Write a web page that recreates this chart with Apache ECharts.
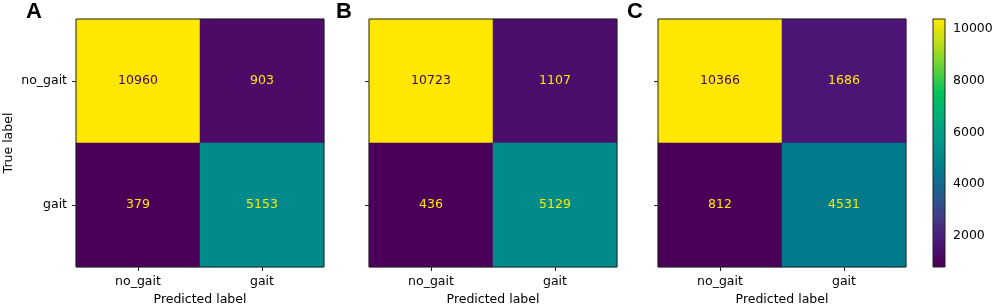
<!DOCTYPE html>
<html>
<head>
<meta charset="utf-8">
<script src="https://cdn.jsdelivr.net/npm/echarts@6/dist/echarts.min.js"></script>
<style>
  html, body { margin: 0; padding: 0; background: #fff; }
  #main { width: 996px; height: 306px; }
</style>
</head>
<body>
<div id="main"></div>
<script>
// confusion matrices, rows = true label, cols = predicted label
var labels = ["no_gait", "gait"];
var panels = ["A", "B", "C"];
var matA = [[10960, 903], [379, 5153]];
var matB = [[10723, 1107], [436, 5129]];
var matC = [[10366, 1686], [812, 4531]];
var cbTicks = [2000, 4000, 6000, 8000, 10000];

// viridis as it looks in the picture (rather saturated)
var cmap = ["#4a0058", "#4c1677", "#453a86", "#1e5e8f", "#007d8c", "#00968a",
  "#00ac7c", "#00c35c", "#5fd23a", "#bcdd18", "#ffe800"];

var myChart = echarts.init(document.getElementById("main"));
var font = "DejaVu Sans";
var lefts = [76, 369, 658];
var mats = [matA, matB, matC];

function range(m) {
  var all = m[0].concat(m[1]);
  return [Math.min.apply(null, all), Math.max.apply(null, all)];
}

var grids = [], xAxes = [], yAxes = [], series = [], vms = [], titles = [];
mats.forEach(function (m, k) {
  var r = range(m);
  var thresh = (r[0] + r[1]) / 2;
  grids.push({ left: lefts[k], top: 19, width: 248, height: 248, show: true,
    borderColor: "#222", borderWidth: 1, z: 3, containLabel: false, outerBoundsMode: "none" });
  xAxes.push({
    type: "category", gridIndex: k, data: labels,
    axisLine: { show: false },
    axisTick: { show: true, alignWithLabel: true, length: 4, lineStyle: { color: "#222" } },
    axisLabel: { color: "#000", fontFamily: font, fontSize: 12.5, margin: 8 },
    name: "Predicted label", nameLocation: "middle", nameGap: 26,
    nameTextStyle: { color: "#000", fontFamily: font, fontSize: 12.5 },
    splitLine: { show: false }
  });
  yAxes.push({
    type: "category", gridIndex: k, data: labels, inverse: true,
    axisLine: { show: false },
    axisTick: { show: true, alignWithLabel: true, length: 4, lineStyle: { color: "#222" } },
    axisLabel: { show: k === 0, color: "#000", fontFamily: font, fontSize: 12.5, margin: 9 },
    name: k === 0 ? "True label" : "", nameLocation: "middle", nameGap: 61,
    nameTextStyle: { color: "#000", fontFamily: font, fontSize: 12.5 },
    splitLine: { show: false }
  });
  var data = [];
  for (var i = 0; i < 2; i++) {
    for (var j = 0; j < 2; j++) {
      var v = m[i][j];
      data.push({ value: [j, i, v],
        label: { color: v > thresh ? "#46005a" : "#ffe800" } });
    }
  }
  series.push({
    type: "heatmap", xAxisIndex: k, yAxisIndex: k, data: data,
    label: { show: true, fontFamily: font, fontSize: 12.5,
      formatter: function (p) { return p.value[2]; } },
    itemStyle: { borderWidth: 0 },
    emphasis: { disabled: true }
  });
  vms.push({
    type: "continuous", seriesIndex: k, min: r[0], max: r[1],
    show: false, inRange: { color: cmap }
  });
  titles.push({ text: panels[k], left: [26, 336, 627][k], top: 1, padding: 0,
    textStyle: { fontFamily: "Liberation Sans", fontWeight: "bold", fontSize: 22, color: "#000" } });
});

// colorbar of panel C: frame and ticks
var cbRange = range(matC);
grids.push({ left: 933, top: 19, width: 12, height: 248, show: true,
  borderColor: "#222", borderWidth: 1, z: 10, containLabel: false, outerBoundsMode: "none" });
xAxes.push({ type: "value", gridIndex: 3, show: false });
yAxes.push({
  type: "value", gridIndex: 3, min: cbRange[0], max: cbRange[1], position: "right",
  axisLine: { show: false }, splitLine: { show: false },
  axisTick: { show: true, length: 4, customValues: cbTicks, lineStyle: { color: "#222" } },
  axisLabel: { customValues: cbTicks, color: "#000", fontFamily: font, fontSize: 12.5, margin: 8,
    formatter: function (v) { return String(v); } }
});

var stops = cmap.map(function (c, i) { return { offset: i / (cmap.length - 1), color: c }; });

var option = {
  animation: false,
  title: titles,
  grid: grids,
  xAxis: xAxes,
  yAxis: yAxes,
  visualMap: vms,
  series: series,
  graphic: [{
    type: "rect", z: 5,
    shape: { x: 933, y: 19, width: 12, height: 248 },
    style: { fill: new echarts.graphic.LinearGradient(0, 1, 0, 0, stops) },
    silent: true
  }]
};
myChart.setOption(option);
</script>
</body>
</html>
